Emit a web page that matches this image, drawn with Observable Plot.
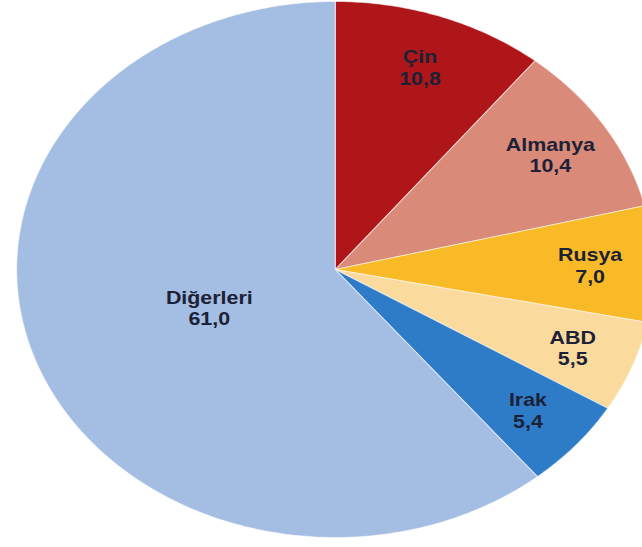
<!DOCTYPE html>
<html>
<head>
<meta charset="utf-8">
<script src="https://cdn.jsdelivr.net/npm/d3@7"></script>
<script src="https://cdn.jsdelivr.net/npm/@observablehq/plot@0.6"></script>
<style>
  html, body { margin: 0; padding: 0; background: #ffffff; }
  #chart { width: 642px; height: 547px; overflow: hidden; }
</style>
</head>
<body>
<div id="chart"></div>
<script>
const categories = ["Çin", "Almanya", "Rusya", "ABD", "Irak", "Diğerleri"];
const values = [10.8, 10.4, 7.0, 5.5, 5.4, 61.0];
const colors = ["#AE1619", "#DA8A78", "#F9BA27", "#FBDA9E", "#2E7CC8", "#A4BDE2"];

const total = d3.sum(values);
const fmt = d3.formatLocale({decimal: ",", thousands: ".", grouping: [3], currency: ["", ""]}).format(".1f");

// slice outlines on a unit circle, clockwise from 12 o'clock
const slices = [];
let cum = 0;
categories.forEach((name, i) => {
  const a0 = cum / total * 2 * Math.PI;
  cum += values[i];
  const a1 = cum / total * 2 * Math.PI;
  slices.push({name, px: 0, py: 0});
  const n = Math.max(8, Math.ceil((a1 - a0) / 0.01));
  for (let k = 0; k <= n; k++) {
    const a = a0 + (a1 - a0) * k / n;
    slices.push({name, px: Math.sin(a), py: Math.cos(a)});
  }
});

// label anchors at mid-angle
const labels = [];
cum = 0;
const maxV = d3.max(values);
categories.forEach((name, i) => {
  const am = (cum + values[i] / 2) / total * 2 * Math.PI;
  cum += values[i];
  const r = values[i] === maxV ? 0.42 : 0.8;
  labels.push({name, px: r * Math.sin(am), py: r * Math.cos(am), text: name + "\n" + fmt(values[i])});
});

const W = 540, H = 547;
const chart = Plot.plot({
  width: W,
  height: H,
  margin: 0,
  style: {background: "#ffffff", fontFamily: "Liberation Sans, Arial, sans-serif"},
  x: {domain: [-1, 1], range: [13.5, 549.5], axis: null},
  y: {domain: [-1, 1], range: [537, 1], axis: null},
  color: {domain: categories, range: colors},
  marks: [
    Plot.line(slices, {
      x: "px", y: "py", z: "name", fill: "name",
      stroke: "#ffffff", strokeOpacity: 0.55, strokeWidth: 1,
      curve: "linear-closed"
    }),
    Plot.text(labels, {
      x: "px", y: "py", text: "text",
      fontSize: 18, fontWeight: "bold", fill: "#1b2136",
      lineHeight: 1.2, textAnchor: "middle",
      fontFamily: "Liberation Sans, Arial, sans-serif"
    })
  ]
});

chart.setAttribute("width", 642);
chart.setAttribute("height", 547);
chart.setAttribute("preserveAspectRatio", "none");
chart.setAttribute("style", "display:block;background:#ffffff;width:642px;height:547px;max-width:none;font-family:Liberation Sans, Arial, sans-serif;");
document.getElementById("chart").appendChild(chart);
</script>
</body>
</html>
